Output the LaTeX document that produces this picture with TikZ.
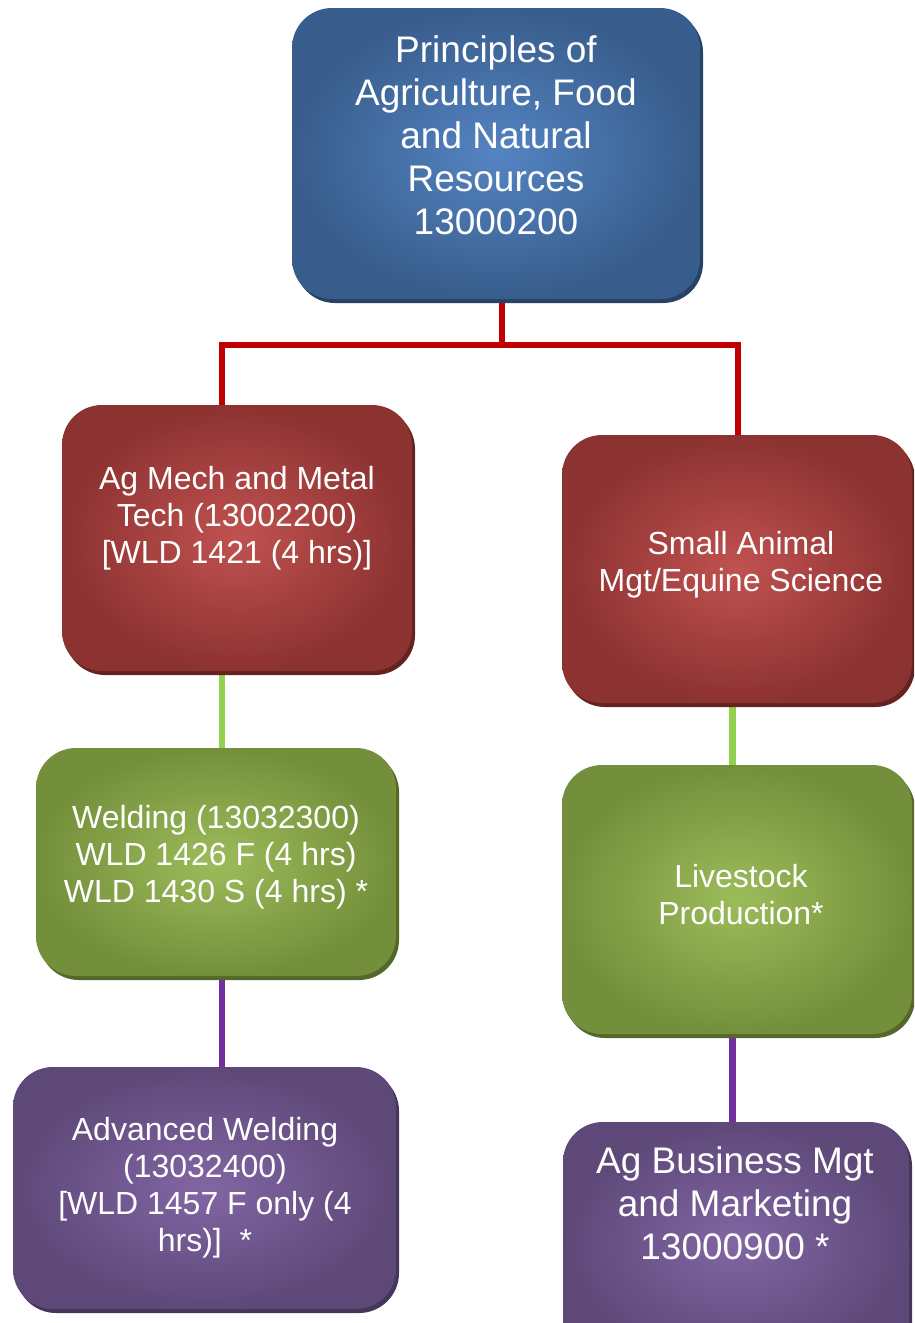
\documentclass[tikz,border=0pt]{standalone}
\usepackage{fontspec}
\setmainfont{Liberation Sans}
\usetikzlibrary{shadows,backgrounds}
\definecolor{bluein}{RGB}{84,132,194}
\definecolor{blueout}{RGB}{56,93,140}
\definecolor{blueshad}{RGB}{40,66,100}
\definecolor{redin}{RGB}{192,82,80}
\definecolor{redout}{RGB}{140,50,49}
\definecolor{redshad}{RGB}{100,34,33}
\definecolor{greenin}{RGB}{156,188,90}
\definecolor{greenout}{RGB}{116,143,59}
\definecolor{greenshad}{RGB}{84,104,42}
\definecolor{purpin}{RGB}{130,102,164}
\definecolor{purpout}{RGB}{94,72,120}
\definecolor{purpshad}{RGB}{70,54,90}
\definecolor{lnred}{RGB}{192,0,0}
\definecolor{lngreen}{RGB}{146,208,80}
\definecolor{lnpurp}{RGB}{112,48,160}
\tikzset{
  box/.style={draw=none, rounded corners=40pt, inner sep=0pt},
  bluebox/.style={box, inner color=bluein, outer color=blueout,
    general shadow={fill=blueshad, shadow xshift=3pt, shadow yshift=-4pt}},
  redbox/.style={box, inner color=redin, outer color=redout,
    general shadow={fill=redshad, shadow xshift=3pt, shadow yshift=-4pt}},
  greenbox/.style={box, inner color=greenin, outer color=greenout,
    general shadow={fill=greenshad, shadow xshift=3pt, shadow yshift=-4pt}},
  purpbox/.style={box, inner color=purpin, outer color=purpout,
    general shadow={fill=purpshad, shadow xshift=3pt, shadow yshift=-4pt}},
  bigtxt/.style={text=white, align=center, inner sep=0pt, font=\fontsize{37}{43}\selectfont},
  smalltxt/.style={text=white, align=center, inner sep=0pt, font=\fontsize{32}{37}\selectfont},
  conn/.style={line width=6.5pt},
}
\begin{document}
\begin{tikzpicture}[x=1pt,y=-1pt]
\clip (0,0) rectangle (914,1323);
% boxes
\node[bluebox, minimum width=408pt, minimum height=291pt] (top) at (496,153.5) {};
\node[redbox, minimum width=350pt, minimum height=266pt] (ag) at (237,538) {};
\node[redbox, minimum width=350pt, minimum height=268pt] (sa) at (737,569) {};
\node[greenbox, minimum width=360pt, minimum height=228pt] (wd) at (216,862) {};
\node[greenbox, minimum width=350pt, minimum height=269pt] (lp) at (737,899.5) {};
\node[purpbox, minimum width=383pt, minimum height=242pt] (aw) at (204.5,1188) {};
\node[purpbox, minimum width=346pt, minimum height=242pt] (ab) at (736,1243) {};
% texts
\node[bigtxt] (toptxt) at (496,135) {Principles of\\Agriculture, Food\\and Natural\\Resources\\13000200};
\node[smalltxt] (agtxt) at (237,518) {Ag Mech and Metal\\Tech (13002200)\\{}[WLD 1421 (4 hrs)]};
\node[smalltxt] (satxt) at (741,565) {Small Animal\\Mgt/Equine Science};
\node[smalltxt] (wdtxt) at (216,857) {Welding (13032300)\\WLD 1426 F (4 hrs)\\WLD 1430 S (4 hrs) *};
\node[smalltxt] (lptxt) at (741,895) {Livestock\\Production*};
\node[smalltxt] (awtxt) at (205,1188) {Advanced Welding\\(13032400)\\{}[WLD 1457 F only (4\\hrs)]~~*};
\node[bigtxt] (abtxt) at (735,1203) {Ag Business Mgt\\and Marketing\\13000900 *};
% connectors
\begin{pgfonlayer}{background}
\coordinate (j) at (502,345);
\draw[conn, lnred] ([xshift=6pt]top.south) -- (j);
\draw[conn, lnred] ([xshift=-15pt]ag.north) |- (j) -| ([xshift=1pt]sa.north);
\draw[conn, lngreen] ([xshift=-15pt]ag.south) -- ([xshift=6pt]wd.north);
\draw[conn, lngreen] ([xshift=-4.5pt]sa.south) -- ([xshift=-4.5pt]lp.north);
\draw[conn, lnpurp] ([xshift=6pt]wd.south) -- ([xshift=17.5pt]aw.north);
\draw[conn, lnpurp] ([xshift=-4.5pt]lp.south) -- ([xshift=-3.5pt]ab.north);
\end{pgfonlayer}
\end{tikzpicture}
\end{document}
